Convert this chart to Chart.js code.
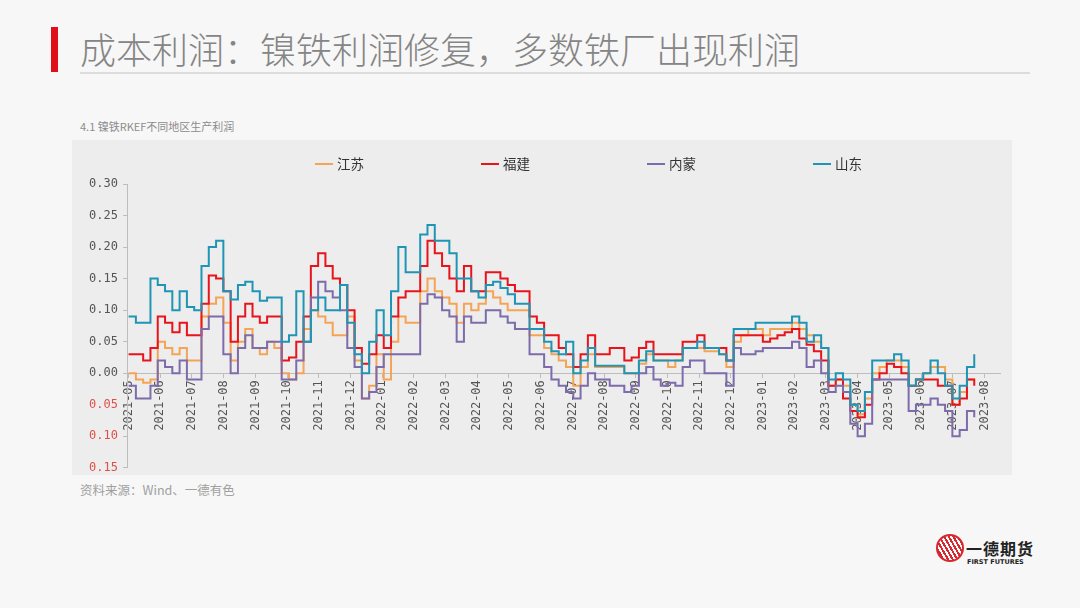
<!DOCTYPE html>
<html>
<head>
<meta charset="utf-8">
<script src="https://cdn.jsdelivr.net/npm/chart.js@4.4.1/dist/chart.umd.min.js"></script>
<style>
  body { margin: 0; width: 1080px; height: 608px; background: #f7f7f7; overflow: hidden;
         font-family: "Noto Sans CJK SC", "Noto Sans", sans-serif; position: relative; }
  .abs { position: absolute; }
  #bar { left: 51px; top: 27px; width: 7px; height: 45px; background: #e0101a; }
  #title { left: 80px; top: 25px; font-size: 36px; font-weight: 300; color: #858585; white-space: nowrap; line-height: 46px; }
  #rule { left: 80px; top: 72px; width: 950px; height: 2px; background: #dcdcdc; }
  #sub { left: 80px; top: 118px; font-size: 11px; color: #8c8c8c; white-space: nowrap; }
  #panel { left: 72px; top: 140px; width: 940px; height: 335px; background: #eeeded; }
  #grafico { position: absolute; left: 0; top: 0; }
  #src { left: 80px; top: 480px; font-size: 12.5px; color: #a0a0a0; white-space: nowrap; }
  .lg { top: 154px; font-size: 13.5px; color: #333; white-space: nowrap; line-height: 18px; }
  .lg i { display: inline-block; width: 18px; height: 2px; vertical-align: middle; margin-right: 4px; margin-top: -2px; }
  #logoIcon { left: 936px; top: 534px; width: 24px; height: 24px; border-radius: 50%;
              border: 2px solid #d7282f;
              background: repeating-linear-gradient(60deg, #d7282f 0 2px, #fff 2px 4px); }
  #logoCn { left: 966px; top: 539px; font-size: 16px; line-height: 18px; font-weight: bold; color: #222; letter-spacing: 1px; }
  #logoEn { left: 967px; top: 558px; font-size: 6.5px; line-height: 8px; font-weight: bold; color: #222; font-family: "DejaVu Sans", sans-serif; }
</style>
</head>
<body>
<div id="bar" class="abs"></div>
<div id="title" class="abs">成本利润：镍铁利润修复，多数铁厂出现利润</div>
<div id="rule" class="abs"></div>
<div id="sub" class="abs">4.1 镍铁RKEF不同地区生产利润</div>
<div id="panel" class="abs"><canvas id="grafico" width="940" height="340"></canvas></div>
<div id="legenda"></div>
<div id="src" class="abs">资料来源：Wind、一德有色</div>
<div id="logoIcon" class="abs"></div>
<div id="logoCn" class="abs">一德期货</div>
<div id="logoEn" class="abs">FIRST FUTURES</div>

<script>
// === Dados (amostra semanal a partir de 2021-05-01) ===
const meses = ["2021-05","2021-06","2021-07","2021-08","2021-09","2021-10","2021-11","2021-12",
  "2022-01","2022-02","2022-03","2022-04","2022-05","2022-06","2022-07","2022-08","2022-09","2022-10",
  "2022-11","2022-12","2023-01","2023-02","2023-03","2023-04","2023-05","2023-06","2023-07","2023-08"];

const series = ["江苏", "福建", "内蒙", "山东"];
const cores = ["#f5a455", "#e8141c", "#7d6cab", "#1f95b5"];

const jiangsu = [
  0.00, -0.01, -0.015, -0.01, 0.05, 0.04, 0.03, 0.04, 0.02, 0.02,
  0.09, 0.11, 0.12, 0.08, 0.02, 0.05, 0.07, 0.04, 0.03, 0.05,
  0.04, 0.00, -0.01, 0.00, 0.07, 0.10, 0.09, 0.08, 0.06, 0.06,
  0.09, 0.02, -0.04, -0.02, 0.03, -0.01, 0.05, 0.09, 0.08, 0.08,
  0.13, 0.15, 0.13, 0.12, 0.11, 0.08, 0.11, 0.10, 0.11, 0.13,
  0.12, 0.11, 0.10, 0.10, 0.10, 0.06, 0.06, 0.04, 0.03, 0.02,
  0.01, -0.02, 0.01, 0.03, 0.01, 0.01, 0.01, 0.01, 0.00, 0.00,
  0.015, 0.03, 0.02, 0.02, 0.01, 0.02, 0.04, 0.04, 0.04, 0.035,
  0.035, 0.03, 0.01, 0.05, 0.06, 0.07, 0.07, 0.06, 0.07, 0.07,
  0.07, 0.08, 0.07, 0.06, 0.05, 0.04, -0.02, -0.01, -0.02, -0.05,
  -0.065, -0.04, 0.00, 0.01, 0.02, 0.02, 0.01, -0.02, -0.01, 0.00,
  0.01, 0.01, -0.01, -0.05, -0.03, -0.01, -0.01
];
const fujian = [
  0.03, 0.03, 0.02, 0.04, 0.09, 0.08, 0.065, 0.08, 0.06, 0.06,
  0.11, 0.155, 0.15, 0.13, 0.05, 0.09, 0.11, 0.09, 0.08, 0.09,
  0.09, 0.02, 0.025, 0.05, 0.09, 0.17, 0.19, 0.17, 0.15, 0.14,
  0.10, 0.04, 0.015, 0.03, 0.06, 0.04, 0.09, 0.12, 0.13, 0.13,
  0.17, 0.21, 0.19, 0.17, 0.15, 0.13, 0.17, 0.13, 0.13, 0.16,
  0.16, 0.15, 0.14, 0.13, 0.13, 0.09, 0.08, 0.06, 0.06, 0.04,
  0.03, 0.01, 0.03, 0.06, 0.03, 0.03, 0.04, 0.04, 0.02, 0.025,
  0.04, 0.05, 0.03, 0.03, 0.03, 0.03, 0.05, 0.05, 0.06, 0.04,
  0.04, 0.04, 0.02, 0.06, 0.06, 0.06, 0.06, 0.05, 0.055, 0.06,
  0.065, 0.07, 0.055, 0.045, 0.035, 0.02, -0.02, -0.01, -0.04, -0.06,
  -0.07, -0.05, -0.01, 0.00, 0.015, 0.01, 0.00, -0.02, -0.01, -0.01,
  -0.01, -0.02, -0.02, -0.05, -0.04, -0.01, -0.02
];
const neimeng = [
  -0.02, -0.04, -0.04, -0.02, 0.02, 0.01, 0.00, 0.02, -0.01, -0.01,
  0.07, 0.09, 0.09, 0.03, 0.00, 0.04, 0.06, 0.04, 0.04, 0.05,
  0.05, -0.01, -0.01, 0.02, 0.05, 0.12, 0.145, 0.13, 0.12, 0.10,
  0.04, 0.01, -0.04, -0.03, 0.01, 0.03, 0.03, 0.03, 0.03, 0.03,
  0.11, 0.125, 0.12, 0.10, 0.09, 0.05, 0.09, 0.08, 0.08, 0.10,
  0.10, 0.09, 0.08, 0.07, 0.07, 0.03, 0.03, 0.01, -0.01, -0.02,
  -0.03, -0.04, -0.02, 0.00, -0.01, -0.01, -0.02, -0.02, -0.03, -0.02,
  0.00, 0.01, -0.01, -0.02, -0.015, -0.02, 0.01, 0.02, 0.02, 0.00,
  0.00, 0.00, -0.02, 0.04, 0.03, 0.03, 0.035, 0.04, 0.04, 0.04,
  0.04, 0.05, 0.04, 0.01, 0.02, 0.00, -0.03, -0.02, -0.03, -0.08,
  -0.10, -0.08, -0.01, -0.01, -0.01, -0.01, -0.01, -0.06, -0.05, -0.05,
  -0.04, -0.05, -0.06, -0.10, -0.09, -0.06, -0.07
];
const shandong = [
  0.09, 0.08, 0.08, 0.15, 0.14, 0.13, 0.10, 0.13, 0.105, 0.10,
  0.17, 0.20, 0.21, 0.13, 0.117, 0.14, 0.145, 0.13, 0.115, 0.12,
  0.12, 0.05, 0.06, 0.13, 0.05, 0.10, 0.12, 0.10, 0.10, 0.14,
  0.08, 0.03, 0.00, 0.05, 0.10, 0.06, 0.13, 0.20, 0.16, 0.16,
  0.22, 0.235, 0.21, 0.21, 0.19, 0.15, 0.15, 0.13, 0.12, 0.14,
  0.145, 0.135, 0.125, 0.11, 0.11, 0.07, 0.07, 0.05, 0.035, 0.03,
  0.05, 0.00, 0.02, 0.04, 0.012, 0.012, 0.012, 0.012, 0.00, 0.00,
  0.02, 0.035, 0.02, 0.02, 0.02, 0.02, 0.04, 0.04, 0.05, 0.04,
  0.04, 0.03, 0.02, 0.07, 0.07, 0.07, 0.08, 0.08, 0.08, 0.08,
  0.08, 0.09, 0.08, 0.05, 0.06, 0.04, -0.01, 0.00, -0.01, -0.05,
  -0.06, -0.03, 0.02, 0.02, 0.02, 0.03, 0.02, -0.02, -0.01, 0.00,
  0.02, 0.00, -0.02, -0.04, -0.02, 0.01, 0.03
];

const valores = [jiangsu, fujian, neimeng, shandong];

// semana -> posição em meses desde 2021-05
function semanaParaMes(i) {
    return i * 7 / 30.4375;
}

// === Legenda ===
const legenda = document.getElementById("legenda");
legenda.innerHTML = series.map((s, i) =>
    `<div class="abs lg" style="left:${315 + i * 166}px"><i style="background:${cores[i]}"></i>${s}</div>`
).join("");

// === Gráfico ===
const fonteEixo = { family: "'DejaVu Sans Mono', 'Liberation Mono', monospace", size: 12 };

// ordem inversa: a última série (山东) fica por cima
const datasets = series.map((s, i) => ({
    label: s,
    data: valores[i].map((v, k) => ({ x: semanaParaMes(k), y: v })),
    borderColor: cores[i],
    backgroundColor: cores[i],
    borderWidth: 2,
    pointRadius: 0,
    stepped: true,
    fill: false
})).reverse();

new Chart(document.getElementById("grafico").getContext("2d"), {
    type: "line",
    data: { datasets },
    options: {
        responsive: false,
        animation: false,
        layout: { padding: { top: 44, bottom: 5, left: 0, right: 12 } },
        plugins: { legend: { display: false }, tooltip: { enabled: false } },
        scales: {
            x: {
                type: "linear",
                min: -0.05,
                max: 27.49,
                position: { y: 0 },
                afterBuildTicks: s => { s.ticks = meses.map((m, i) => ({ value: i })); },
                afterFit: s => { s.height = 0; },
                ticks: {
                    autoSkip: false,
                    minRotation: 90,
                    maxRotation: 90,
                    padding: 3,
                    color: "#555",
                    font: fonteEixo,
                    callback: (v, i) => meses[i]
                },
                grid: { drawOnChartArea: false, tickLength: 4, color: "#bdbdbd" },
                border: { color: "#bdbdbd", width: 1 }
            },
            y: {
                min: -0.15,
                max: 0.30,
                afterFit: s => { s.width = 55; },
                ticks: {
                    stepSize: 0.05,
                    padding: 5,
                    font: fonteEixo,
                    color: c => c.tick.value < -1e-9 ? "#e0504a" : "#555",
                    callback: v => Math.abs(v).toFixed(2)
                },
                grid: { drawOnChartArea: false, tickLength: 4, color: "#bdbdbd" },
                border: { color: "#bdbdbd", width: 1 }
            }
        }
    }
});
</script>
</body>
</html>
